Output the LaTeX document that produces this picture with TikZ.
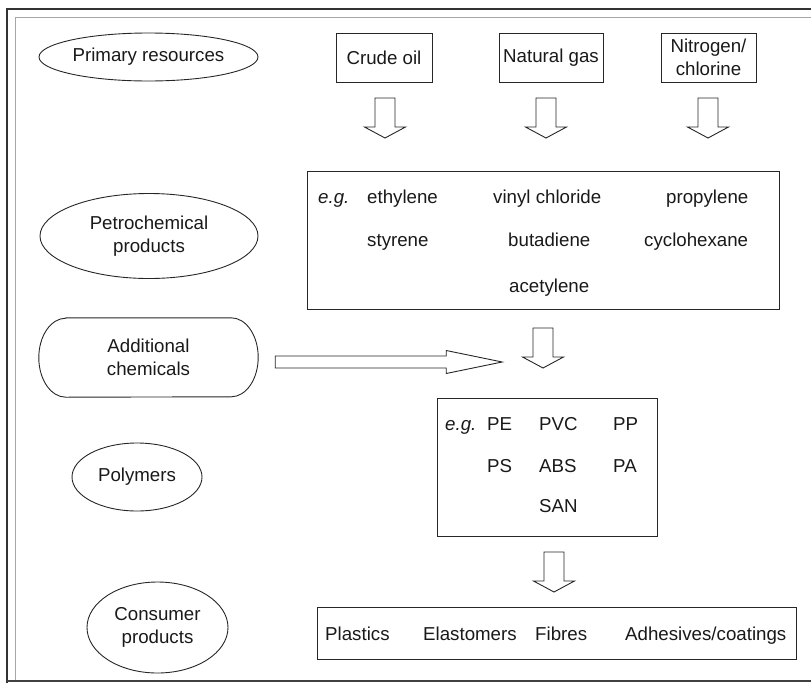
\documentclass[tikz,border=0pt]{standalone}
\usepackage{fontspec}
\setmainfont{Liberation Sans}
\usetikzlibrary{shapes.geometric}

\tikzset{
  ln/.style={line width=0.9pt, draw=black!85},
  lbl/.style={font=\fontsize{18.7}{23}\selectfont, text=black!90, inner sep=0pt},
  oval/.style={ln, ellipse, inner sep=0pt, lbl, align=center},
  srcbox/.style={ln, rectangle, inner sep=0pt, lbl, align=center, minimum height=49pt},
  groupbox/.style={ln, rectangle, inner sep=0pt},
  item/.style={lbl, anchor=base west},
  blockdown/.pic={\draw[ln, fill=white] (-10,0) -- (10,0) -- (10,29) -- (20.5,29)
      -- (0,40) -- (-20.5,29) -- (-10,29) -- cycle;},
  blockright/.pic={\draw[ln, fill=white] (0,-6) -- (171,-6) -- (171,-11.5) -- (227,0)
      -- (171,11.5) -- (171,6) -- (0,6) -- cycle;}
}

\begin{document}
\begin{tikzpicture}[x=1pt, y=-1pt]
\useasboundingbox (0,0) rectangle (811,683);

% page frame
\draw[line width=1.1pt, black!80] (7,683) -- (7,9) -- (811,9);
\draw[line width=0.9pt, black!35] (15,681) -- (15,17) -- (811,17);
\draw[line width=1.1pt, black!75] (7,681) -- (811,681);

% stage labels on the left
\node[oval, minimum width=219pt, minimum height=48pt] (prim) at (148.5,57) {Primary resources};
\node[oval, minimum width=218pt, minimum height=85pt] (petro) at (149,236) {Petrochemical\\products};
\node[lbl, align=center, minimum width=219pt, minimum height=79pt] (addl) at (148.5,357.5) {Additional\\chemicals};
\draw[ln] (addl.north west) ++(27,0) -- ([xshift=-27pt]addl.north east)
  arc[start angle=90, end angle=-90, x radius=27pt, y radius=39.5pt]
  -- ([xshift=27pt]addl.south west)
  arc[start angle=270, end angle=90, x radius=27pt, y radius=39.5pt] -- cycle;
\node[oval, minimum width=130pt, minimum height=68pt] (polym) at (137,477) {Polymers};
\node[oval, minimum width=141pt, minimum height=91pt] (cons) at (157.5,627.5) {Consumer\\products};

% primary resources
\node[srcbox, minimum width=96pt] (crude) at (384,57.5) {Crude oil};
\node[srcbox, minimum width=104pt] (gas) at (551,57.5) {Natural gas};
\node[srcbox, minimum width=95pt, text depth=0pt] (nitro) at (708.5,57.5) {Nitrogen/\\chlorine};

\pic at (385,98) {blockdown};
\pic at (546,98) {blockdown};
\pic at (708,98) {blockdown};

% petrochemical products
\node[groupbox, minimum width=472pt, minimum height=138pt] (petrobox) at (543,240) {};
\node[item] (eg1) at (318,203) {\itshape e.g.};
\node[item] (p1) at (367,203) {ethylene};
\node[item] (p2) at (493,203) {vinyl chloride};
\node[item] (p3) at (666,203) {propylene};
\node[item] (p4) at (367,246) {styrene};
\node[item] (p5) at (508,246) {butadiene};
\node[item] (p6) at (644,246) {cyclohexane};
\node[item] (p7) at (509,292) {acetylene};

% additional chemicals feed in
\coordinate (feed) at ([xshift=17pt, yshift=-4.5pt]addl.east);
\pic at (feed) {blockright};
\pic at (543,328) {blockdown};

% polymers
\node[groupbox, minimum width=220pt, minimum height=138pt] (polybox) at (547,467) {};
\node[item] (eg2) at (445,430) {\itshape e.g.};
\node[item] (q1) at (487,430) {PE};
\node[item] (q2) at (539,430) {PVC};
\node[item] (q3) at (613,430) {PP};
\node[item] (q4) at (487,472) {PS};
\node[item] (q5) at (539,472) {ABS};
\node[item] (q6) at (613,472) {PA};
\node[item] (q7) at (539,512) {SAN};

\pic at (554,552) {blockdown};

% consumer products
\node[groupbox, minimum width=479pt, minimum height=52pt] (consbox) at (556.5,633) {};
\node[item] (c1) at (325,640) {Plastics};
\node[item] (c2) at (423,640) {Elastomers};
\node[item] (c3) at (535,640) {Fibres};
\node[item] (c4) at (625,640) {Adhesives/coatings};
\end{tikzpicture}
\end{document}
